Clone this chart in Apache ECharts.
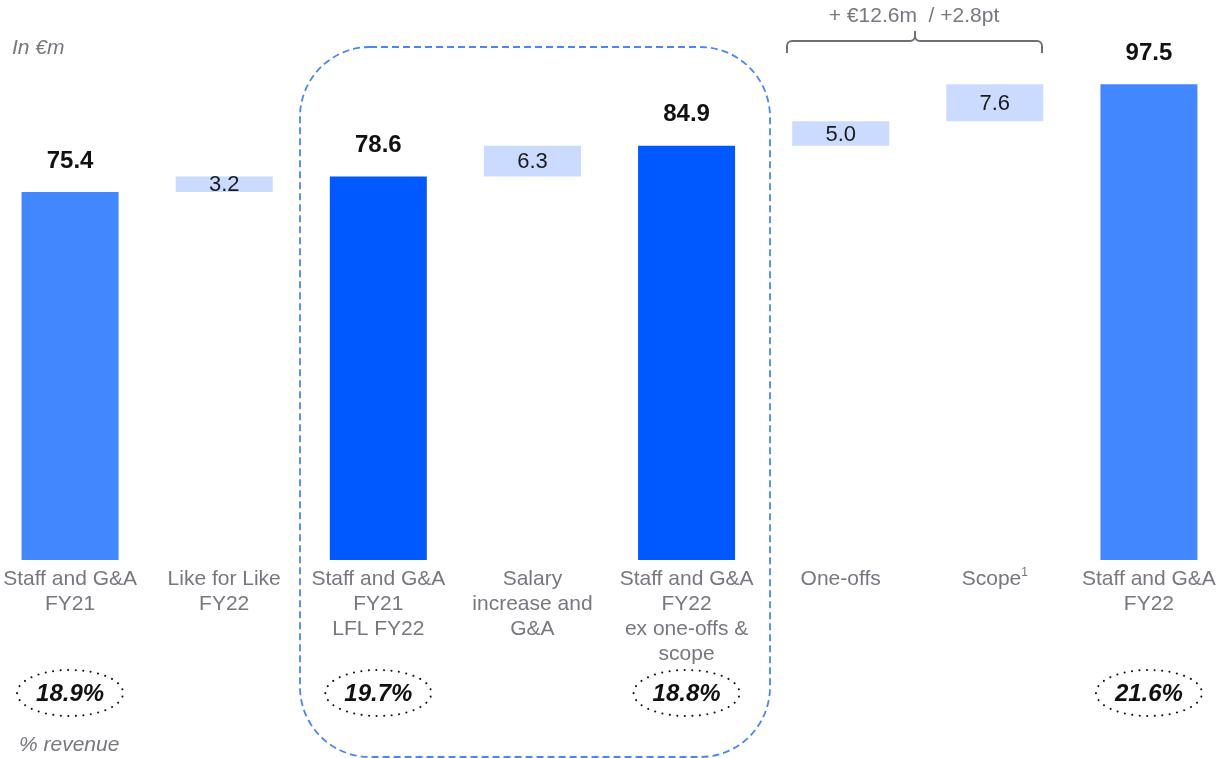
<!DOCTYPE html>
<html>
<head>
<meta charset="utf-8">
<script src="https://cdn.jsdelivr.net/npm/echarts@6/dist/echarts.min.js"></script>
<style>
  html, body { margin: 0; padding: 0; background: #fff; }
  #chart { width: 1218px; height: 758px; }
</style>
</head>
<body>
<div id="chart"></div>
<script>
// ---- data ----
const categories = [
  'Staff and G&A\nFY21',
  'Like for Like\nFY22',
  'Staff and G&A\nFY21\nLFL FY22',
  'Salary\nincrease and\nG&A',
  'Staff and G&A\nFY22\nex one-offs &\nscope',
  'One-offs',
  'Scope{sup|1}',
  'Staff and G&A\nFY22'
];
const values = [75.4, 3.2, 78.6, 6.3, 84.9, 5.0, 7.6, 97.5];
const barKinds = ['total', 'step', 'subtotal', 'step', 'subtotal', 'step', 'step', 'total'];
const revenueShare = ['18.9%', '', '19.7%', '', '18.8%', '', '', '21.6%'];
const bracketText = '+ €12.6m  / +2.8pt';
const unitText = 'In €m';
const revenueText = '% revenue';

// ---- styles ----
const FONT = '"Liberation Sans", Arial, Helvetica, sans-serif';
const colors = { total: '#4387FF', subtotal: '#0058FF', step: '#CADBFF' };
const grey = '#76777F';

// waterfall bases
let running = 0;
const bases = values.map((v, i) => {
  if (barKinds[i] === 'step') { const b = running; running += v; return b; }
  running = v; return 0;
});

const barData = values.map((v, i) => {
  const k = barKinds[i];
  return {
    value: v,
    itemStyle: { color: colors[k] },
    label: k === 'step'
      ? { show: true, position: 'inside', fontSize: 22, color: '#1b1b1b', fontFamily: FONT, offset: [0, 1] }
      : { show: true, position: 'top', distance: 19, fontSize: 24, fontWeight: 'bold', color: '#111', fontFamily: FONT }
  };
});

const chart = echarts.init(document.getElementById('chart'), null, { renderer: 'canvas' });
chart.setOption({
  animation: false,
  backgroundColor: '#fff',
  grid: { left: -7, right: -8, top: 72, bottom: 198, containLabel: false, outerBoundsMode: 'none' },
  xAxis: {
    type: 'category',
    data: categories,
    axisLine: { show: false },
    axisTick: { show: false },
    axisLabel: {
      interval: 0,
      hideOverlap: false,
      margin: 7,
      fontSize: 21,
      lineHeight: 25,
      color: grey,
      fontFamily: FONT,
      rich: {
        sup: { fontSize: 12, verticalAlign: 'top', color: grey, fontFamily: FONT, lineHeight: 10, padding: [0, 0, 6, 0] }
      }
    }
  },
  yAxis: { type: 'value', min: 0, max: 100, show: false, splitLine: { show: false } },
  series: [
    { type: 'bar', stack: 'w', data: bases, barWidth: 97, itemStyle: { color: 'transparent' }, silent: true },
    { type: 'bar', stack: 'w', data: barData, barWidth: 97,
      label: { formatter: p => p.value.toFixed(1) } }
  ]
});

// ---- annotations ----
const xs = categories.map((c, i) => chart.convertToPixel({ xAxisIndex: 0 }, i));
const graphics = [];
revenueShare.forEach((t, i) => {
  if (!t) return;
  graphics.push({
    type: 'ellipse', shape: { cx: xs[i], cy: 693, rx: 53, ry: 23 },
    style: { fill: 'none', stroke: '#111', lineWidth: 2, lineDash: [0.1, 7.4], lineCap: 'round' }
  });
  graphics.push({
    type: 'text', x: xs[i], y: 694,
    style: { text: t, fontSize: 24, fontWeight: 'bold', fontStyle: 'italic', fill: '#111',
             fontFamily: FONT, align: 'center', verticalAlign: 'middle' }
  });
});
graphics.push({
  type: 'rect', shape: { x: 300, y: 47, width: 470, height: 710, r: 70 },
  style: { fill: 'none', stroke: '#4A86F7', lineWidth: 1.8, lineDash: [7, 4] }
});
// bracket
const bs = { fill: 'none', stroke: '#6F6F78', lineWidth: 2 };
const L = 787, R = 1042, M = 915, Y = 41, r = 5;
[
  [L, 53, L, Y + r], [L + r, Y, M - r, Y], [M, Y - r, M, 31], [M + r, Y, R - r, Y], [R, Y + r, R, 53]
].forEach(s => graphics.push({ type: 'line', shape: { x1: s[0], y1: s[1], x2: s[2], y2: s[3] }, style: bs }));
[
  [L + r, Y + r, Math.PI, 1.5 * Math.PI],
  [M - r, Y - r, 0, 0.5 * Math.PI],
  [M + r, Y - r, 0.5 * Math.PI, Math.PI],
  [R - r, Y + r, 1.5 * Math.PI, 2 * Math.PI]
].forEach(a => graphics.push({ type: 'arc', shape: { cx: a[0], cy: a[1], r: r, startAngle: a[2], endAngle: a[3], clockwise: true }, style: bs }));
graphics.push({
  type: 'text', x: 914, y: 16,
  style: { text: bracketText, fontSize: 21, fill: grey, fontFamily: FONT, align: 'center', verticalAlign: 'middle' }
});
graphics.push({
  type: 'text', x: 12, y: 48,
  style: { text: unitText, fontSize: 21, fontStyle: 'italic', fill: grey, fontFamily: FONT, align: 'left', verticalAlign: 'middle' }
});
graphics.push({
  type: 'text', x: 19, y: 745,
  style: { text: revenueText, fontSize: 21, fontStyle: 'italic', fill: grey, fontFamily: FONT, align: 'left', verticalAlign: 'middle' }
});
chart.setOption({ graphic: graphics });
</script>
</body>
</html>
